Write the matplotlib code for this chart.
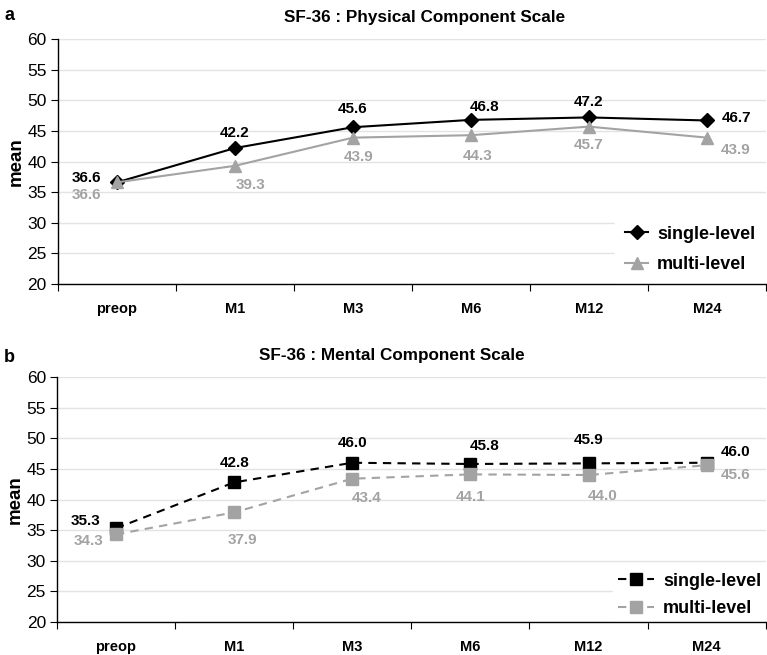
import matplotlib.pyplot as plt

plt.rcParams['font.family'] = ['Liberation Sans', 'DejaVu Sans']

visits = ['preop', 'M1', 'M3', 'M6', 'M12', 'M24']

pcs_single = [36.6, 42.2, 45.6, 46.8, 47.2, 46.7]
pcs_multi = [36.6, 39.3, 43.9, 44.3, 45.7, 43.9]
mcs_single = [35.3, 42.8, 46.0, 45.8, 45.9, 46.0]
mcs_multi = [34.3, 37.9, 43.4, 44.1, 44.0, 45.6]

# label offsets in points (dx, dy) for each point
pcs_single_off = [(-22, 3), (0, 11), (0, 13), (10, 9), (0, 11), (21, 2)]
pcs_multi_off = [(-22, -9), (11, -14), (4, -14), (5, -15), (0, -13), (21, -9)]
mcs_single_off = [(-22, 5), (0, 14), (0, 14), (10, 13), (0, 17), (21, 8)]
mcs_multi_off = [(-20, -5), (6, -20), (10, -14), (0, -16), (10, -15), (21, -7)]

GRAY = '#a3a3a3'
x = list(range(len(visits)))

fig = plt.figure(figsize=(7.67, 6.55), dpi=100)
ax_a = fig.add_axes([0.0756, 0.5664, 0.923, 0.374])
ax_b = fig.add_axes([0.0743, 0.0504, 0.924, 0.374])


def panel(ax, single, multi, s_off, m_off, marker_s, marker_m, ms_s, ms_m, ls,
          title, title_x, letter, letter_y, leg_pad, leg_space, leg_hl):
    ax.set_ylim(20, 60)
    ax.set_xlim(-0.5, len(visits) - 0.5)
    ax.set_yticks(range(20, 61, 5))
    ax.yaxis.grid(True, color='#e3e3e3', linewidth=1.0)
    ax.set_axisbelow(True)
    for side in ['top', 'right']:
        ax.spines[side].set_visible(False)
    ax.spines['left'].set_linewidth(1.0)
    ax.spines['bottom'].set_linewidth(1.0)

    ax.plot(x, single, color='black', linestyle=ls, linewidth=1.5,
            marker=marker_s, markersize=ms_s, label='single-level', zorder=3)
    ax.plot(x, multi, color=GRAY, linestyle=ls, linewidth=1.5,
            marker=marker_m, markersize=ms_m, label='multi-level', zorder=4)

    for xi, v, off in zip(x, single, s_off):
        ax.annotate(f'{v:.1f}', (xi, v), xytext=off, textcoords='offset points',
                    ha='center', va='center', fontsize=11, fontweight='bold', color='black')
    for xi, v, off in zip(x, multi, m_off):
        ax.annotate(f'{v:.1f}', (xi, v), xytext=off, textcoords='offset points',
                    ha='center', va='center', fontsize=11, fontweight='bold', color=GRAY)

    # category ticks between the groups
    ax.set_xticks([i - 0.5 for i in range(len(visits) + 1)])
    ax.set_xticklabels([])
    ax.set_xticks(x, minor=True)
    ax.set_xticklabels(visits, minor=True, fontsize=10.5, fontweight='bold')
    ax.tick_params(axis='x', which='minor', length=0, pad=13)
    ax.tick_params(axis='x', which='major', length=5, direction='out')
    ax.tick_params(axis='y', labelsize=12.5, length=5, direction='out', pad=3)
    ax.set_ylabel('mean', fontsize=13.5, fontweight='bold', labelpad=2)

    ax.set_title(title, fontsize=12.3, fontweight='bold', pad=12, x=title_x)
    ax.text(-0.075, letter_y, letter, transform=ax.transAxes, fontsize=13,
            fontweight='bold', ha='left', va='center')

    leg = ax.legend(loc='lower right', bbox_to_anchor=(1.0, 0.0), frameon=True,
                    fontsize=13, handlelength=leg_hl, handletextpad=0.5,
                    borderpad=leg_pad, labelspacing=leg_space, borderaxespad=0.0)
    leg.get_frame().set_edgecolor('white')
    leg.get_frame().set_facecolor('white')
    leg.get_frame().set_alpha(1.0)
    leg.set_zorder(2.4)  # keep the axis line visible over the white box
    for t in leg.get_texts():
        t.set_fontweight('bold')


panel(ax_a, pcs_single, pcs_multi, pcs_single_off, pcs_multi_off,
      'D', '^', 7, 8, '-', 'SF-36 : Physical Component Scale', 0.518, 'a', 1.095,
      0.6, 0.75, 1.25)
panel(ax_b, mcs_single, mcs_multi, mcs_single_off, mcs_multi_off,
      's', 's', 9, 9, (0, (4, 3)), 'SF-36 : Mental Component Scale', 0.4725, 'b', 1.08,
      0.25, 0.6, 2.0)

fig.savefig('out.png', dpi=100)
